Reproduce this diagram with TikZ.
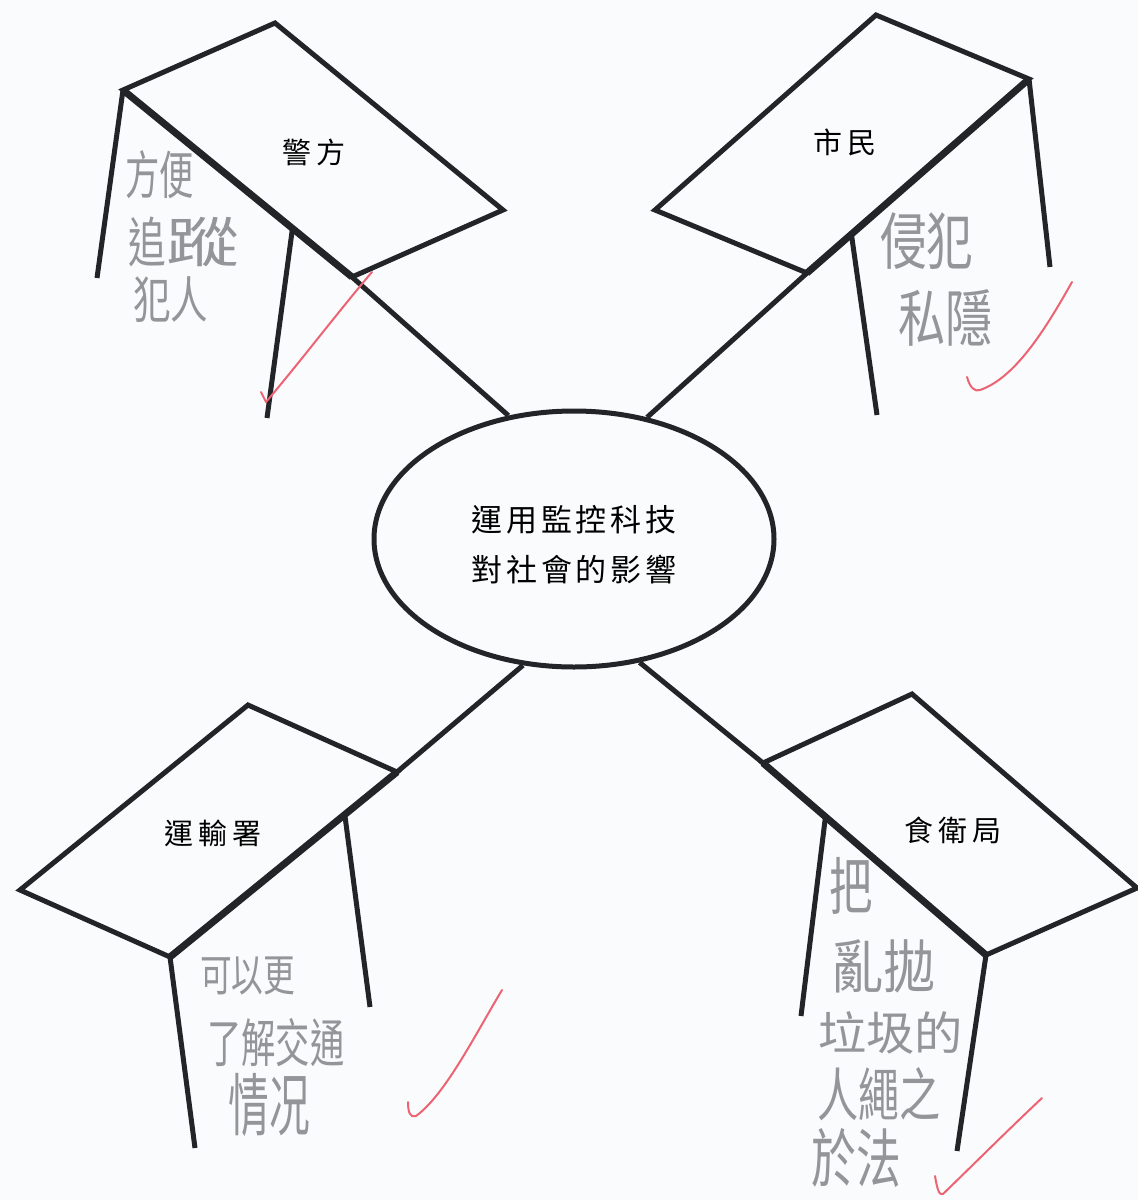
\documentclass[tikz,border=0pt]{standalone}
\usepackage{fontspec}
\usepackage{graphicx}
\newfontfamily\cjk[LetterSpace=12]{Noto Sans CJK TC}
\newfontfamily\cjklab[LetterSpace=16]{Noto Sans CJK TC}
\newfontfamily\hand{Noto Sans CJK TC}
\usetikzlibrary{shapes.geometric,calc}
\definecolor{ink}{RGB}{34,36,40}
\definecolor{handgray}{RGB}{148,149,153}
\definecolor{checkred}{RGB}{236,100,115}
\definecolor{paper}{RGB}{250,251,252}
\newcommand\hsz[1]{\hand\fontsize{#1}{#1}\selectfont}
\begin{document}
\begin{tikzpicture}[x=1pt,y=-1pt,
  edge/.style={draw=ink,line width=5pt,line join=miter},
  shared/.style={draw=ink,line width=7pt},
  leg/.style={draw=ink,line width=5pt},
  conn/.style={draw=ink,line width=5pt},
  lab/.style={font=\cjklab\fontsize{29}{29}\selectfont,text=black,inner sep=0},
  hw/.style={text=handgray,inner sep=0,anchor=west},
  tick/.style={draw=checkred,line width=2pt,line cap=round,line join=round}]
\fill[paper] (0,0) rectangle (1138,1200);
\useasboundingbox (0,0) rectangle (1138,1200);

% centre
\node[ellipse,draw=ink,line width=5pt,minimum width=400pt,minimum height=256pt,inner sep=0] (hub) at (574,539) {};
\node[font=\cjk\fontsize{31}{50}\selectfont,align=center,inner sep=0] (hubtext) at (574,545) {運用監控科技\\對社會的影響};

% top-left table
\coordinate (tlL) at (123,90);
\coordinate (tlT) at (275,23);
\coordinate (tlR) at (503,210);
\coordinate (tlB) at (352,277);
\coordinate (tlK) at ($(tlL)!0.74!(tlB)$);
\coordinate (tlF1) at (97,278);
\coordinate (tlF2) at (267,418);
\draw[edge] (tlB) -- (tlL) -- (tlT) -- (tlR) -- cycle;
\draw[shared] (tlL) -- (tlB);
\draw[conn] (tlB) -- (hub.118);
\draw[leg] (tlL) -- (tlF1);
\draw[leg] (tlK) -- (tlF2);
\node[lab] (police) at (314,152) {警方};

% top-right table
\coordinate (trT) at (876,15);
\coordinate (trR) at (1029,79);
\coordinate (trL) at (655,210);
\coordinate (trB) at (807,273);
\coordinate (trK) at ($(trR)!0.8!(trB)$);
\coordinate (trF1) at (1050,267);
\coordinate (trF2) at (877,415);
\draw[edge] (trB) -- (trL) -- (trT) -- (trR) -- cycle;
\draw[shared] (trR) -- (trB);
\draw[conn] (trB) -- (hub.59);
\draw[leg] (trR) -- (trF1);
\draw[leg] (trK) -- (trF2);
\node[lab] (citizen) at (845,142) {市民};

% bottom-left table
\coordinate (blL) at (20,890);
\coordinate (blT) at (248,705);
\coordinate (blR) at (397,772);
\coordinate (blB) at (170,957);
\coordinate (blK) at ($(blB)!0.77!(blR)$);
\coordinate (blF1) at (195,1148);
\coordinate (blF2) at (370,1007);
\draw[edge] (blB) -- (blL) -- (blT) -- (blR) -- cycle;
\draw[shared] (blB) -- (blR);
\draw[conn] (blR) -- (hub.248);
\draw[leg] (blB) -- (blF1);
\draw[leg] (blK) -- (blF2);
\node[lab] (transport) at (213,833) {運輸署};

% bottom-right table
\coordinate (brL) at (763,763);
\coordinate (brT) at (912,694);
\coordinate (brR) at (1137,888);
\coordinate (brB) at (986,955);
\coordinate (brK) at ($(brL)!0.28!(brB)$);
\coordinate (brF1) at (957,1151);
\coordinate (brF2) at (801,1016);
\draw[edge] (brB) -- (brL) -- (brT) -- (brR) -- cycle;
\draw[shared] (brL) -- (brB);
\draw[conn] (brL) -- (hub.298);
\draw[leg] (brB) -- (brF1);
\draw[leg] (brK) -- (brF2);
\node[lab] (fehd) at (953,830) {食衛局};

% handwritten answers
\node[hw,font=\hsz{52}] (tlh1) at (125,175) {\scalebox{0.66}[1]{方便}};
\node[hw,font=\hsz{54}] (tlh2) at (128,242) {\scalebox{0.7}[1]{追}\scalebox{1.35}[1]{蹤}};
\node[hw,font=\hsz{50}] (tlh3) at (133,300) {\scalebox{0.75}[1]{犯人}};

\node[hw,font=\hsz{62}] (trh1) at (880,241) {\scalebox{0.75}[1]{侵犯}};
\node[hw,font=\hsz{62}] (trh2) at (898,318) {\scalebox{0.76}[1]{私隱}};

\node[hw,font=\hsz{44}] (blh1) at (200,976) {\scalebox{0.72}[1]{可以更}};
\node[hw,font=\hsz{52}] (blh2) at (207,1043) {\scalebox{0.66}[1]{了解交通}};
\node[hw,font=\hsz{68}] (blh3) at (228,1105) {\scalebox{0.6}[1]{情况}};

\node[hw,font=\hsz{62}] (brh1) at (829,886) {\scalebox{0.7}[1]{把}};
\node[hw,font=\hsz{58}] (brh2) at (831,966) {\scalebox{0.9}[1]{亂拋}};
\node[hw,font=\hsz{46}] (brh3) at (818,1033) {\scalebox{1.05}[1]{垃圾的}};
\node[hw,font=\hsz{58}] (brh4) at (817,1094) {\scalebox{0.71}[1]{人繩之}};
\node[hw,font=\hsz{64}] (brh5) at (811,1158) {\scalebox{0.7}[1]{於法}};

% red ticks
\draw[tick] (261,392) -- (266,402) .. controls (300,362) and (338,312) .. (372,272);
\draw[tick] (967,377) .. controls (970,388) and (975,392) .. (980,390) .. controls (1015,378) and (1045,330) .. (1072,282);
\draw[tick] (408,1102) .. controls (408,1112) and (410,1118) .. (416,1116) .. controls (445,1095) and (475,1035) .. (502,990);
\draw[tick] (935,1176) .. controls (937,1188) and (939,1196) .. (943,1194) .. controls (975,1163) and (1010,1128) .. (1042,1098);
\end{tikzpicture}
\end{document}
